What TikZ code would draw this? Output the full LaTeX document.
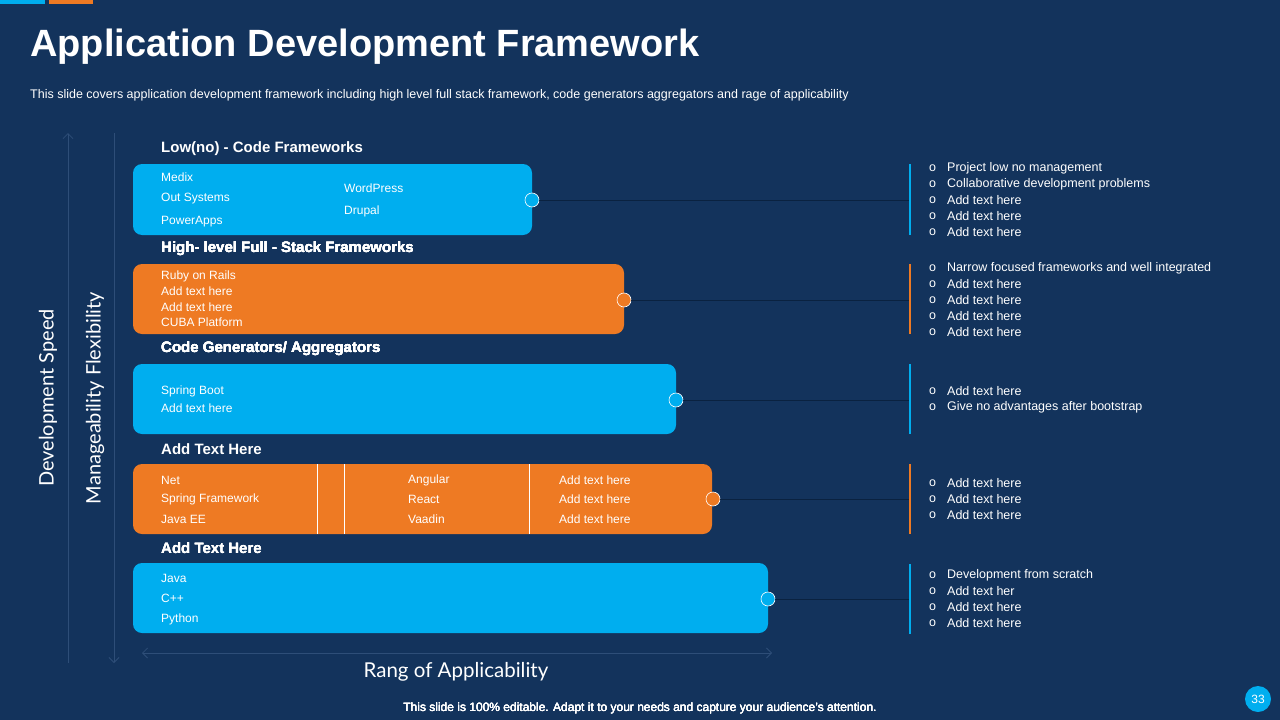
\documentclass[tikz,border=0pt]{standalone}
\usepackage{fontspec}
\setmainfont{Liberation Sans}
\newfontfamily\lato{Lato}
\usetikzlibrary{arrows.meta}
\definecolor{bg}{HTML}{13335C}
\definecolor{cblue}{HTML}{00AEEF}
\definecolor{corange}{HTML}{EE7A23}
\definecolor{axis}{HTML}{2E4E78}
\definecolor{navy}{HTML}{0A2240}
\newcommand{\bl}[2]{\node[bul] at (929,#1) {o}; \node[bul] at (947,#1) {#2};}
\begin{document}
\begin{tikzpicture}[x=1pt,y=-1pt,
  bar/.style={rounded corners=9pt},
  item/.style={anchor=west,text=white,font=\fontsize{12}{14}\selectfont,inner sep=0pt},
  head/.style={anchor=west,text=white,font=\fontsize{15}{17}\selectfont\bfseries,inner sep=0pt},
  bul/.style={anchor=west,text=white,font=\fontsize{12.5}{14}\selectfont,inner sep=0pt},
  dot/.style={circle,draw=white,line width=0.6pt,minimum size=14pt,inner sep=0pt},
  conn/.style={draw=navy,line width=0.8pt},
  ax/.style={draw=axis,line width=0.8pt}]
\fill[bg] (0,0) rectangle (1280,720);
\useasboundingbox (0,0) rectangle (1280,720);
\fill[cblue] (0,0) rectangle (45,4);
\fill[corange] (49,0) rectangle (93,4);
\node[anchor=west,text=white,font=\fontsize{38}{42}\selectfont\bfseries,inner sep=0pt] (title) at (30,47) {Application Development Framework};
\node[anchor=west,text=white,font=\fontsize{12.5}{14}\selectfont,inner sep=0pt] (sub) at (30,95) {This slide covers application development framework including high level full stack framework, code generators aggregators and rage of applicability};
% axes
\coordinate (a1t) at (68,133); \coordinate (a1b) at (68,663);
\coordinate (a2t) at (114,133); \coordinate (a2b) at (114,663);
\coordinate (hl) at (142,653); \coordinate (hr) at (772,653);
\draw[ax,-{Straight Barb[length=5pt]}] (a1b) -- (a1t);
\draw[ax,-{Straight Barb[length=5pt]}] (a2t) -- (a2b);
\draw[ax,{Straight Barb[length=5pt]}-{Straight Barb[length=5pt]}] (hl) -- (hr);
\node[rotate=90,text=white,font=\lato\fontsize{20}{24}\selectfont] (ds) at (48,398) {Development Speed};
\node[rotate=90,text=white,font=\lato\fontsize{20}{24}\selectfont] (mf) at (95,398) {Manageability Flexibility};
\node[text=white,font=\lato\fontsize{20.5}{24}\selectfont] (ra) at (456,672) {Rang of Applicability};
% row 1
\node[head] (h1) at (161,149) {Low(no) - Code Frameworks};
\fill[cblue,bar] (133,164) rectangle (532,235);
\node[item] at (161,177) {Medix};
\node[item] at (161,199) {Out Systems};
\node[item] at (161,222) {PowerApps};
\node[item] at (344,188) {WordPress};
\node[item] at (344,211) {Drupal};
\node[dot,fill=cblue] (d1) at (532,200) {};
\coordinate (e1) at (910,200);
\draw[conn] (d1) -- (e1);
\draw[cblue,line width=2.5pt] (910,164) -- (910,235);
\foreach \t [count=\i] in {Project low no management,Collaborative  development  problems,Add text here,Add text here,Add text here}
  \bl{168+16*\i-16}{\t}
% row 2
\node[head] (h2) at (161,249) {High- level Full - Stack Frameworks};
\fill[corange,bar] (133,264) rectangle (624,334);
\foreach \t [count=\i] in {Ruby on Rails,Add text here,Add text here,CUBA Platform}
  \node[item] at (161,276+15.5*\i-15.5) {\t};
\node[dot,fill=corange] (d2) at (624,300) {};
\coordinate (e2) at (910,300);
\draw[conn] (d2) -- (e2);
\draw[corange,line width=2.5pt] (910,264) -- (910,334);
\foreach \t [count=\i] in {Narrow focused frameworks and well integrated,Add text here,Add text here,Add text here,Add text here}
  \bl{268+16*\i-16}{\t}
% row 3
\node[head] (h3) at (161,349) {Code Generators/ Aggregators};
\fill[cblue,bar] (133,364) rectangle (676,434);
\node[item] at (161,391) {Spring Boot};
\node[item] at (161,408) {Add text here};
\node[dot,fill=cblue] (d3) at (676,400) {};
\coordinate (e3) at (910,400);
\draw[conn] (d3) -- (e3);
\draw[cblue,line width=2.5pt] (910,364) -- (910,434);
\bl{391}{Add text here}
\bl{407}{Give  no  advantages  after  bootstrap}
% row 4
\node[head] (h4) at (161,449) {Add Text Here};
\fill[corange,bar] (133,464) rectangle (712,534);
\draw[white,line width=0.6pt] (317,464) -- (317,534) (344,464) -- (344,534) (529,464) -- (529,534);
\foreach \a/\b/\c [count=\i] in {Net/Angular/Add text here,Spring Framework/React/Add text here,Java EE/Vaadin/Add text here}{
  \node[item] at (161,480+19.5*\i-19.5) {\a};
  \node[item] at (408,480+19.5*\i-19.5) {\b};
  \node[item] at (559,480+19.5*\i-19.5) {\c};}
\node[dot,fill=corange] (d4) at (713,499) {};
\coordinate (e4) at (910,499);
\draw[conn] (d4) -- (e4);
\draw[corange,line width=2.5pt] (910,464) -- (910,534);
\foreach \t [count=\i] in {Add text here,Add text here,Add text here}
  \bl{483+16*\i-16}{\t}
% row 5
\node[head] (h5) at (161,548) {Add Text Here};
\fill[cblue,bar] (133,563) rectangle (768,633);
\node[item] at (161,578) {Java};
\node[item] at (161,598) {C++};
\node[item] at (161,619) {Python};
\node[dot,fill=cblue] (d5) at (768,599) {};
\coordinate (e5) at (910,599);
\draw[conn] (d5) -- (e5);
\draw[cblue,line width=2.5pt] (910,564) -- (910,634);
\foreach \t [count=\i] in {Development  from  scratch,Add text her,Add text here,Add text here}
  \bl{575+16*\i-16}{\t}
% footer
\node[text=white,font=\fontsize{12}{14}\selectfont,inner sep=0pt] (foot) at (640,708) {This slide is 100\% editable. Adapt it to your needs and capture your audience's attention.};
\node[circle,fill=cblue,minimum size=26pt,inner sep=0pt,text=white,font=\fontsize{12}{14}\selectfont] (pg) at (1258,699) {33};
\end{tikzpicture}
\end{document}
